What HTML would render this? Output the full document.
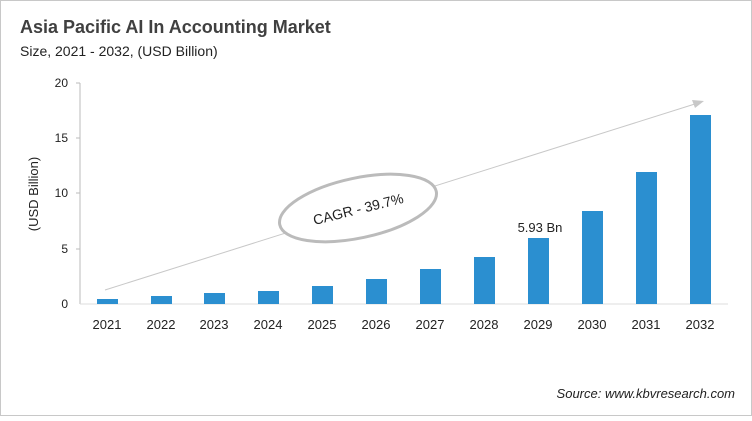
<!DOCTYPE html>
<html><head><style>
body{margin:0;background:#fff;}
svg text{font-family:"Liberation Sans",sans-serif;}
</style></head><body>
<svg width="752" height="416" xmlns="http://www.w3.org/2000/svg">
<rect x="0.5" y="0.5" width="751" height="415" fill="#fff" stroke="#c8c8c8"/>
<text x="20" y="33" font-size="18" font-weight="bold" fill="#404040">Asia Pacific AI In Accounting Market</text>
<text x="20" y="56" font-size="14" fill="#222">Size, 2021 - 2032, (USD Billion)</text>
<line x1="80" y1="83" x2="80" y2="304" stroke="#bbb"/>
<line x1="80" y1="304" x2="728" y2="304" stroke="#ddd"/>
<g font-size="12" fill="#222" text-anchor="end">
<text x="68" y="87">20</text><text x="68" y="142">15</text><text x="68" y="197">10</text><text x="68" y="253">5</text><text x="68" y="308">0</text>
</g>
<g stroke="#bbb"><line x1="76" y1="83" x2="80" y2="83"/><line x1="76" y1="138" x2="80" y2="138"/><line x1="76" y1="193" x2="80" y2="193"/><line x1="76" y1="249" x2="80" y2="249"/></g>
<text transform="translate(38,194) rotate(-90)" font-size="13" fill="#222" text-anchor="middle">(USD Billion)</text>
<line x1="105" y1="290" x2="698" y2="103" stroke="#c8c8c8"/>
<polygon points="704,101 692,100 695,108" fill="#c8c8c8"/>
<ellipse cx="358" cy="208" rx="80" ry="30" transform="rotate(-12 358 208)" fill="#fff" stroke="#bbb" stroke-width="3"/>
<text x="358" y="214" font-size="14" fill="#222" text-anchor="middle" transform="rotate(-14 358 208)">CAGR - 39.7%</text>
<g fill="#2b8fd0">
<rect x="97" y="299" width="21" height="5"/>
<rect x="151" y="296" width="21" height="8"/>
<rect x="204" y="293" width="21" height="11"/>
<rect x="258" y="291" width="21" height="13"/>
<rect x="312" y="286" width="21" height="18"/>
<rect x="366" y="279" width="21" height="25"/>
<rect x="420" y="269" width="21" height="35"/>
<rect x="474" y="257" width="21" height="47"/>
<rect x="528" y="238" width="21" height="66"/>
<rect x="582" y="211" width="21" height="93"/>
<rect x="636" y="172" width="21" height="132"/>
<rect x="690" y="115" width="21" height="189"/>
</g>
<text x="540" y="232" font-size="13" fill="#222" text-anchor="middle">5.93 Bn</text>
<g font-size="13" fill="#222" text-anchor="middle">
<text x="107" y="329">2021</text><text x="161" y="329">2022</text><text x="214" y="329">2023</text><text x="268" y="329">2024</text><text x="322" y="329">2025</text><text x="376" y="329">2026</text><text x="430" y="329">2027</text><text x="484" y="329">2028</text><text x="538" y="329">2029</text><text x="592" y="329">2030</text><text x="646" y="329">2031</text><text x="700" y="329">2032</text>
</g>
<text x="735" y="398" font-size="13" font-style="italic" fill="#222" text-anchor="end">Source: www.kbvresearch.com</text>
</svg>
</body></html>
